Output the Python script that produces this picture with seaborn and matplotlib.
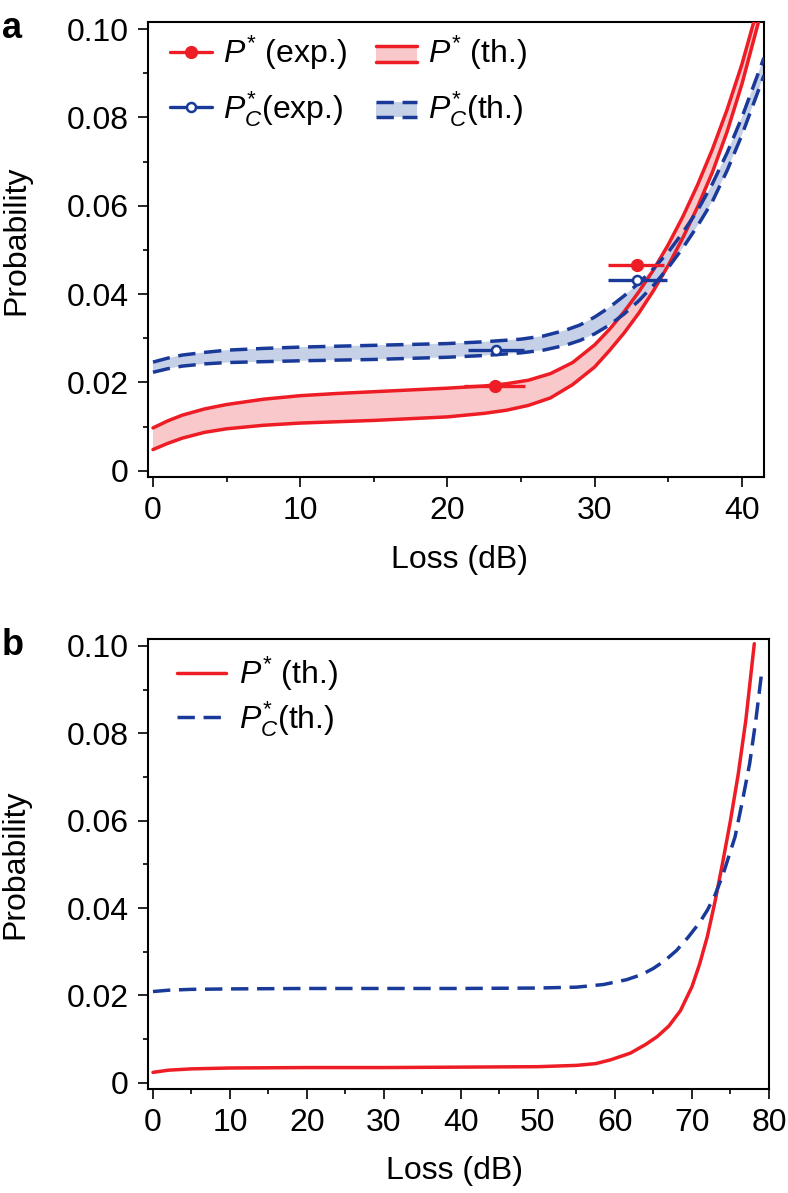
import numpy as np
import matplotlib
matplotlib.use('Agg')
import matplotlib.pyplot as plt
import seaborn as sns
from matplotlib.lines import Line2D
from matplotlib.patches import Rectangle, Patch
from matplotlib.legend_handler import HandlerBase
from matplotlib.ticker import MultipleLocator, FixedLocator

# ---------------- data ----------------
# panel a, theory bands
red_hi_x = [0, 1, 2, 3.5, 5, 7.5, 10, 12.5, 15, 17.5, 20, 22.5, 24, 25.5, 27, 28.5, 30, 31,
            32, 33, 34, 35, 36, 37, 38, 39, 40, 40.8, 41]
red_hi_y = [0.0097, 0.0113, 0.0126, 0.0140, 0.0150, 0.0162, 0.0170, 0.0175, 0.0179, 0.0183,
            0.0187, 0.0192, 0.0197, 0.0205, 0.0220, 0.0245, 0.0285, 0.0320, 0.0360, 0.0405,
            0.0455, 0.0512, 0.0576, 0.0648, 0.0728, 0.0818, 0.0920, 0.1015, 0.1040]
red_lo_x = [0, 1, 2, 3.5, 5, 7.5, 10, 12.5, 15, 17.5, 20, 22.5, 24, 25.5, 27, 28.5, 30, 31,
            32, 33, 34, 35, 36, 37, 38, 39, 40, 41, 41.2]
red_lo_y = [0.0048, 0.0062, 0.0074, 0.0087, 0.0095, 0.0103, 0.0108, 0.0111, 0.0114, 0.0118,
            0.0122, 0.0130, 0.0137, 0.0148, 0.0165, 0.0195, 0.0235, 0.0272, 0.0312, 0.0357,
            0.0408, 0.0465, 0.0528, 0.0598, 0.0676, 0.0768, 0.0875, 0.1000, 0.1025]
blue_hi_x = [0, 1, 2, 3.5, 5, 7.5, 10, 12.5, 15, 17.5, 20, 22.5, 25, 26.5, 28, 29, 30, 31, 32,
             33, 34, 35, 36, 37, 38, 39, 40, 41.5]
blue_hi_y = [0.0246, 0.0255, 0.0262, 0.0268, 0.0273, 0.0277, 0.0280, 0.0282, 0.0284, 0.0286,
             0.0288, 0.0292, 0.0298, 0.0305, 0.0318, 0.0330, 0.0348, 0.0370, 0.0396, 0.0425,
             0.0458, 0.0495, 0.0540, 0.0590, 0.0650, 0.0720, 0.0800, 0.0935]
blue_lo_x = [0, 1, 2, 3.5, 5, 7.5, 10, 15, 20, 22.5, 25, 26.5, 28, 29, 30, 31, 32, 33, 34, 35,
             36, 37, 38, 39, 40, 41.5]
blue_lo_y = [0.0223, 0.0231, 0.0237, 0.0242, 0.0245, 0.0247, 0.0249, 0.0252, 0.0257, 0.0261,
             0.0267, 0.0273, 0.0284, 0.0295, 0.0310, 0.0330, 0.0355, 0.0385, 0.0420, 0.0460,
             0.0505, 0.0555, 0.0610, 0.0680, 0.0760, 0.0895]

# panel a, experiment
red_pt_x = [23.2, 32.9]
red_pt_y = [0.0193, 0.0465]
red_xerr_lo = [2.1, 2.0]
red_xerr_hi = [2.1, 1.8]
blue_pt_x = [23.3, 32.9]
blue_pt_y = [0.0273, 0.0432]
blue_xerr = [1.9, 2.0]
blue_yerr = [0.0010, 0.0012]

# panel b, theory
b_red_x = [0, 2, 5, 10, 20, 30, 40, 50, 55, 57.5, 59.5, 62, 64, 65.5, 67, 68.5, 70, 71, 72,
           73, 74, 75, 76, 77, 78.1]
b_red_y = [0.0024, 0.0029, 0.0032, 0.0034, 0.0035, 0.0035, 0.0036, 0.0037, 0.0040, 0.0044,
           0.0053, 0.0068, 0.0088, 0.0106, 0.0130, 0.0165, 0.0220, 0.0272, 0.0335, 0.0415,
           0.0505, 0.0600, 0.0705, 0.0830, 0.1005]
b_blue_x = [0, 2, 5, 10, 20, 30, 40, 50, 55, 58.5, 61.5, 63.5, 65, 66.5, 68, 69.5, 71, 72, 73,
            74, 75, 75.6, 76.5, 77.5, 78.3, 79.05]
b_blue_y = [0.0209, 0.0212, 0.0214, 0.0215, 0.0216, 0.0216, 0.0216, 0.0217, 0.0219, 0.0225,
            0.0236, 0.0248, 0.0262, 0.0280, 0.0303, 0.0333, 0.0367, 0.0395, 0.0430, 0.0475,
            0.0530, 0.0563, 0.0640, 0.0731, 0.0830, 0.0938]

RED = '#EE1C25'
BLUE = '#1A3A9A'
PINK = '#F9C8CA'
LAV = '#C6D0E7'
LW = 2.5

sns.set_theme(style='ticks')
plt.rcParams['font.family'] = ['Liberation Sans', 'DejaVu Sans']
plt.rcParams['mathtext.fontset'] = 'custom'
plt.rcParams['mathtext.rm'] = 'Liberation Sans'
plt.rcParams['mathtext.it'] = 'Liberation Sans:italic'
for key in ['text.color', 'axes.labelcolor', 'xtick.color', 'ytick.color', 'axes.edgecolor']:
    plt.rcParams[key] = 'black'
FS = 23


class BandHandler(HandlerBase):
    """Legend key: two parallel lines with a light fill between."""
    def __init__(self, color, fill, dashed):
        super().__init__()
        self.color, self.fill, self.dashed = color, fill, dashed

    def create_artists(self, legend, orig_handle, xdescent, ydescent, width, height, fontsize, trans):
        x0, x1 = -xdescent, -xdescent + width
        y_lo, y_hi = -ydescent + 0.05 * height, -ydescent + 0.75 * height
        rect = Rectangle((x0, y_lo), width, y_hi - y_lo, facecolor=self.fill,
                         edgecolor='none', transform=trans)
        arts = [rect]
        for yy in (y_lo, y_hi):
            ln = Line2D([x0, x1], [yy, yy], color=self.color, lw=LW, transform=trans)
            if self.dashed:
                ln.set_dashes([5, 2.5])
            arts.append(ln)
        return arts


def style_axis(ax, xmajor):
    ax.set_ylim(-0.0014, 0.1015)
    ax.yaxis.set_major_locator(FixedLocator([0, 0.02, 0.04, 0.06, 0.08, 0.10]))
    ax.set_yticklabels(['0', '0.02', '0.04', '0.06', '0.08', '0.10'])
    ax.yaxis.set_minor_locator(MultipleLocator(0.01))
    ax.xaxis.set_major_locator(MultipleLocator(xmajor))
    ax.xaxis.set_minor_locator(MultipleLocator(xmajor / 2))
    ax.tick_params(which='major', direction='out', length=7, width=1.2, labelsize=FS, pad=7, color='black')
    ax.tick_params(which='minor', direction='out', length=3.5, width=1.2, color='black')
    for s in ax.spines.values():
        s.set_linewidth(1.5)
        s.set_color('black')
    ax.set_xlabel('Loss (dB)', fontsize=FS)
    ax.set_ylabel('Probability', fontsize=FS)


fig = plt.figure(figsize=(7.88, 11.93), dpi=100)
ax_a = fig.add_axes([0.1878, 0.6002, 0.7817, 0.381])
ax_b = fig.add_axes([0.1878, 0.0872, 0.788, 0.3769])

# ---------------- panel a ----------------
ax_a.fill(np.concatenate([red_hi_x, red_lo_x[::-1]]), np.concatenate([red_hi_y, red_lo_y[::-1]]),
          color=PINK, lw=0, zorder=1)
ax_a.fill(np.concatenate([blue_hi_x, blue_lo_x[::-1]]), np.concatenate([blue_hi_y, blue_lo_y[::-1]]),
          color=LAV, lw=0, zorder=1)
for xs, ys in [(red_hi_x, red_hi_y), (red_lo_x, red_lo_y)]:
    sns.lineplot(x=xs, y=ys, ax=ax_a, color=RED, lw=LW, zorder=3)
for xs, ys in [(blue_hi_x, blue_hi_y), (blue_lo_x, blue_lo_y)]:
    sns.lineplot(x=xs, y=ys, ax=ax_a, color=BLUE, lw=LW, zorder=3)
    ax_a.lines[-1].set_dashes([5, 2.5])

ax_a.errorbar(red_pt_x, red_pt_y, xerr=[red_xerr_lo, red_xerr_hi], fmt='o', color=RED,
              ms=8.5, elinewidth=2.4, capsize=0, zorder=5)
ax_a.errorbar(blue_pt_x, blue_pt_y, xerr=blue_xerr, yerr=blue_yerr, fmt='o', color=BLUE,
              mfc='white', mec=BLUE, mew=1.8, ms=6.5, elinewidth=2.4, capsize=0, zorder=5)

ax_a.set_xlim(-0.34, 41.5)
style_axis(ax_a, 10)
ax_a.xaxis.set_label_coords(0.506, -0.15)
ax_a.yaxis.set_label_coords(-0.19, 0.52)

h_rexp = Line2D([], [], color=RED, marker='o', ms=8.5, lw=2.4)
h_bexp = Line2D([], [], color=BLUE, marker='o', ms=6.5, mfc='white', mew=1.8, lw=2.4)
h_rth = Patch()
h_bth = Patch()
ax_a.legend([h_rexp, h_bexp, h_rth, h_bth],
            [r'$P^{*}$ (exp.)', r'$P^{*}_{C}$(exp.)', r'$P^{*}$ (th.)', r'$P^{*}_{C}$(th.)'],
            handler_map={h_rth: BandHandler(RED, PINK, False), h_bth: BandHandler(BLUE, LAV, True)},
            ncol=2, loc='upper left', bbox_to_anchor=(0.0, 1.025), frameon=False, fontsize=FS,
            handlelength=1.3, handletextpad=0.35, columnspacing=0.9, labelspacing=0.55,
            borderaxespad=0.3)

# ---------------- panel b ----------------
sns.lineplot(x=b_red_x, y=b_red_y, ax=ax_b, color=RED, lw=LW, label=r'$P^{*}$ (th.)')
sns.lineplot(x=b_blue_x, y=b_blue_y, ax=ax_b, color=BLUE, lw=LW, label=r'$P^{*}_{C}$(th.)')
ax_b.lines[-1].set_dashes([5, 2.5])

ax_b.set_xlim(-0.65, 80)
style_axis(ax_b, 10)
ax_b.xaxis.set_label_coords(0.493, -0.15)
ax_b.yaxis.set_label_coords(-0.19, 0.5)
leg_b = ax_b.legend(loc='upper left', bbox_to_anchor=(0.0, 1.03), frameon=False, fontsize=FS,
                    handlelength=1.55, handletextpad=0.4, labelspacing=0.2, borderaxespad=0.5)
leg_b.get_lines()[1].set_dashes([5, 2.5])

fig.text(0.002, 1 - 38 / 1193, 'a', fontsize=26, fontweight='bold', va='baseline')
fig.text(0.002, 1 - 655 / 1193, 'b', fontsize=26, fontweight='bold', va='baseline')

fig.savefig('out.png', dpi=100)
